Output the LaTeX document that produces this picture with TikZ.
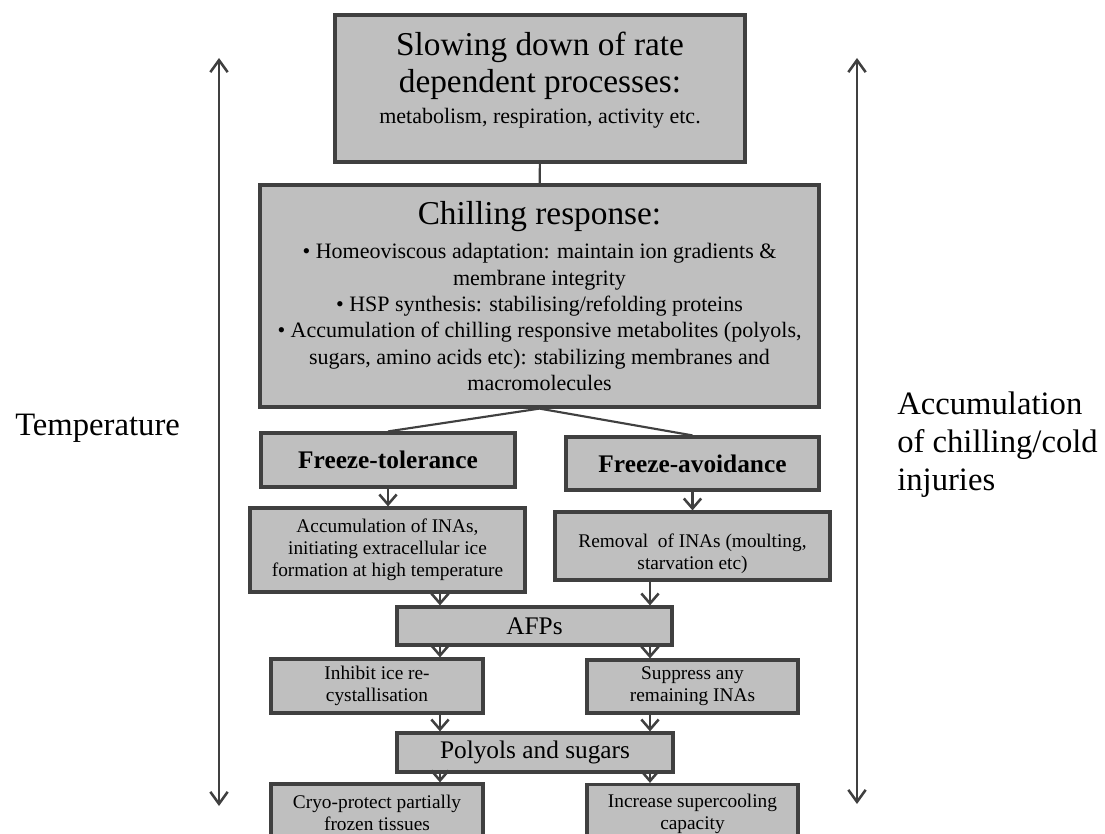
\documentclass[tikz,border=0pt]{standalone}
\usepackage{fontspec}
\setmainfont{Liberation Serif}
\usetikzlibrary{arrows.meta,positioning}
\definecolor{boxfill}{RGB}{191,191,191}
\definecolor{boxline}{RGB}{64,64,64}

\begin{document}
\begin{tikzpicture}[
  x=0.75pt, y=-0.75pt,
  box/.style={draw=boxline, fill=boxfill, line width=2.4pt, align=center, inner sep=0pt},
  big/.style={font=\fontsize{25}{27.75}\selectfont},
  mid/.style={font=\fontsize{19}{22}\selectfont},
  midbold/.style={font=\fontsize{19}{22}\selectfont\bfseries},
  small/.style={font=\fontsize{14.5}{16.5}\selectfont},
  side/.style={font=\fontsize{24.5}{28.5}\selectfont, inner sep=0pt},
  arr/.style={-{Straight Barb[length=7.5pt,width=13pt,line width=1.9pt]}, draw=boxline, line width=1.6pt},
  link/.style={draw=boxline, line width=1.6pt},
  twoway/.style={{Straight Barb[length=9pt,width=13pt,line width=1.9pt]}-{Straight Barb[length=9pt,width=13pt,line width=1.9pt]},
                 draw=boxline, line width=1.8pt},
]
  \useasboundingbox (0,0) rectangle (1105,834);
  \clip (0,0) rectangle (1105,834);

  % boxes
  \node[box, big, minimum width=307.5pt, minimum height=110.25pt] (slow) at (540,88.5)
    {Slowing down of rate\\dependent processes:\\[-4pt]{\fontsize{16.5}{20}\selectfont metabolism, respiration, activity etc.\rule[-16pt]{0pt}{0pt}}};
  \node[box, big, minimum width=419.25pt, minimum height=166.5pt] (chill) at (539.5,296)
    {Chilling response:\\[-2pt]
     {\fontsize{16.5}{19.5}\selectfont \textbullet\ Homeoviscous adaptation: maintain ion gradients \&}\\[-8pt]
     {\fontsize{16.5}{19.5}\selectfont membrane integrity}\\[-8pt]
     {\fontsize{16.5}{19.5}\selectfont \textbullet\ HSP synthesis: stabilising/refolding proteins}\\[-8pt]
     {\fontsize{16.5}{19.5}\selectfont \textbullet\ Accumulation of chilling responsive metabolites (polyols,}\\[-8pt]
     {\fontsize{16.5}{19.5}\selectfont sugars, amino acids etc): stabilizing membranes and}\\[-8pt]
     {\fontsize{16.5}{19.5}\selectfont macromolecules}};
  \node[box, midbold, minimum width=190.5pt, minimum height=40.5pt] (ftol) at (388,460) {Freeze-tolerance};
  \node[box, midbold, minimum width=189.75pt, minimum height=39.75pt] (favo) at (692.5,463.5) {Freeze-avoidance};
  \node[box, small, minimum width=206.25pt, minimum height=63pt] (ina) at (387.5,550)
    {Accumulation of INAs,\\initiating extracellular ice\\formation at high temperature};
  \node[box, small, minimum width=206.25pt, minimum height=51pt] (rem) at (692.5,546)
    {\rule{0pt}{22pt}Removal\ \ of INAs (moulting,\\starvation etc)};
  \node[box, mid, minimum width=206.25pt, minimum height=28.5pt] (afp) at (534.5,626) {AFPs};
  \node[box, small, minimum width=159pt, minimum height=40.5pt] (inh) at (377,686) {Inhibit ice re-\\cystallisation};
  \node[box, small, minimum width=158.25pt, minimum height=39.75pt] (sup) at (692.5,686.5) {Suppress any\\remaining INAs};
  \node[box, mid, minimum width=207pt, minimum height=29.25pt] (pol) at (535,752.5) {Polyols and sugars};
  \node[box, small, minimum width=159pt, minimum height=43.5pt] (cryo) at (377,813) {Cryo-protect partially\\frozen tissues};
  \node[box, small, minimum width=158.25pt, minimum height=43.5pt] (incr) at (692.5,813.5) {Increase supercooling\\capacity};

  % side labels
  \node[side, anchor=base west] (temp) at (15,435) {Temperature};
  \node[side, anchor=west, align=left] (inj) at (897,445) {Accumulation\\of chilling/cold\\injuries};

  % columns and side arrows
  \coordinate (lc) at (440,0);
  \coordinate (rc) at (650,0);
  \coordinate (ttop) at (219,58);
  \coordinate (tbot) at (219,806);
  \coordinate (itop) at (857,58);
  \coordinate (ibot) at (857,804);

  % connectors
  \draw[link] (slow) -- (chill);
  \draw[link] (chill.south) -- (ftol.north);
  \draw[link] (chill.south) -- (favo.north);
  \draw[arr] (ftol.south) -- (ftol.south |- ina.north);
  \draw[arr] (favo.south) -- (favo.south |- rem.north);
  \draw[arr] (ina.south -| lc) -- (afp.north -| lc);
  \draw[arr] (rem.south -| rc) -- (afp.north -| rc);
  \draw[arr] (afp.south -| lc) -- (inh.north -| lc);
  \draw[arr] (afp.south -| rc) -- (sup.north -| rc);
  \draw[arr] (inh.south -| lc) -- (pol.north -| lc);
  \draw[arr] (sup.south -| rc) -- (pol.north -| rc);
  \draw[arr] (pol.south -| lc) -- (cryo.north -| lc);
  \draw[arr] (pol.south -| rc) -- (incr.north -| rc);

  \draw[twoway] (ttop) -- (tbot);
  \draw[twoway] (itop) -- (ibot);
\end{tikzpicture}
\end{document}
